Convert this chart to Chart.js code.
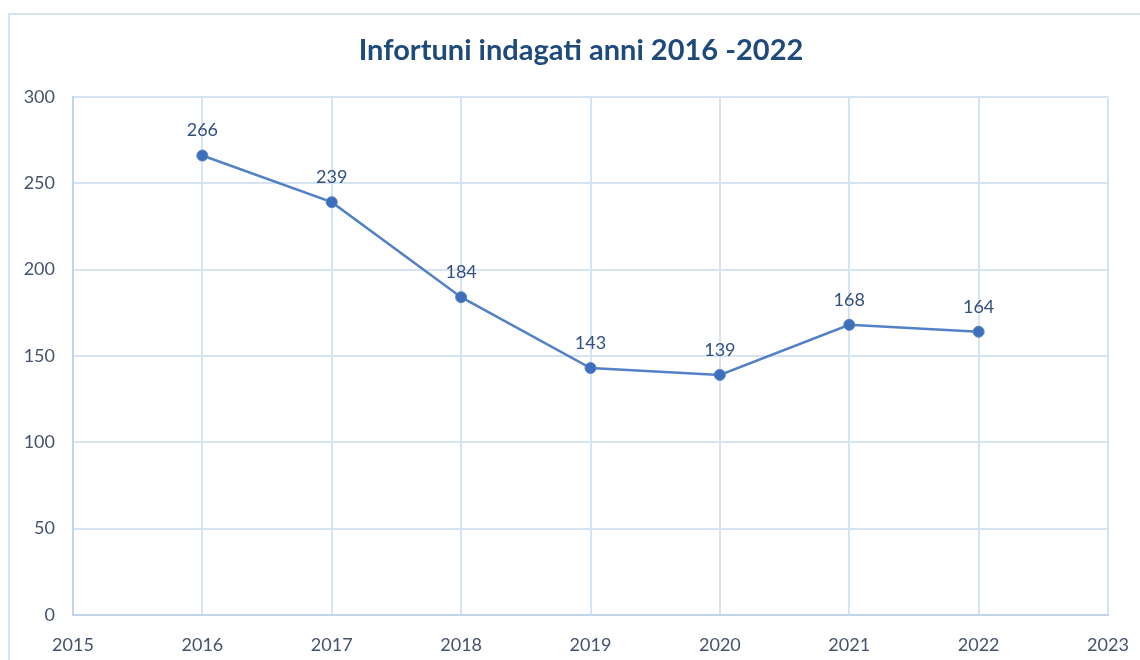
<!doctype html>
<html>
<head>
<meta charset="UTF-8" />
<script src="https://cdn.jsdelivr.net/npm/chart.js"></script>
<style>
  html, body { margin: 0; padding: 0; background: #fff; overflow: hidden; }
  .frame { position: absolute; left: 8px; top: 13px; width: 1200px; height: 700px; border: 2px solid #d6e3f3; box-sizing: border-box; }
  .chartBox { position: absolute; left: 0; top: 0; width: 1140px; height: 660px; }
</style>
</head>
<body>
<div class="frame"></div>
<div class="chartBox"><canvas id="injuryChart"></canvas></div>
<script>
const years = [2016, 2017, 2018, 2019, 2020, 2021, 2022];
const injuries = [266, 239, 184, 143, 139, 168, 164];
const xMin = 2015, xMax = 2023;
const yMin = 0, yMax = 300, yStep = 50;

const fontFamily = 'Lato, "Open Sans", sans-serif';
const tickColor = '#44546a';
const gridColor = '#d6e3f3';

// value labels above each point
const pointLabels = {
  id: 'pointLabels',
  afterDatasetsDraw(chart) {
    const ctx = chart.ctx;
    const meta = chart.getDatasetMeta(0);
    ctx.save();
    ctx.font = '18px ' + fontFamily;
    ctx.fillStyle = '#34507e';
    ctx.textAlign = 'center';
    ctx.textBaseline = 'bottom';
    meta.data.forEach((pt, i) => {
      ctx.fillText(String(injuries[i]), pt.x, pt.y - 16);
    });
    ctx.restore();
  }
};

const data = {
  datasets: [{
    label: 'Infortuni',
    data: years.map((y, i) => ({ x: y, y: injuries[i] })),
    borderColor: '#5281c6',
    backgroundColor: '#3d6fbd',
    borderWidth: 2.5,
    pointRadius: 5.5,
    pointHoverRadius: 5.5,
    pointBorderWidth: 1,
    tension: 0
  }]
};

const config = {
  type: 'line',
  data,
  options: {
    responsive: true,
    maintainAspectRatio: false,
    animation: false,
    // negative right padding moves the title centre to match the original
    layout: { padding: { left: 0, right: -22, top: 0, bottom: 0 } },
    plugins: {
      legend: { display: false },
      tooltip: { enabled: false },
      title: {
        display: true,
        text: 'Infortuni indagati anni 2016 -2022',
        color: '#1f4a7c',
        font: { family: fontFamily, size: 29, weight: 'bold' },
        padding: { top: 33, bottom: 29 }
      }
    },
    scales: {
      x: {
        type: 'linear',
        min: xMin,
        max: xMax,
        ticks: {
          stepSize: 1,
          color: tickColor,
          font: { family: fontFamily, size: 18 },
          padding: 19,
          callback: v => String(v)
        },
        grid: { color: gridColor, lineWidth: 2, drawTicks: false },
        border: { color: '#c3d4ea', width: 2 },
        afterFit: s => { s.height = 45; s.paddingRight = 32; }
      },
      y: {
        min: yMin,
        max: yMax,
        ticks: {
          stepSize: yStep,
          color: tickColor,
          font: { family: fontFamily, size: 18 },
          padding: 18
        },
        grid: { color: gridColor, lineWidth: 2, drawTicks: false },
        border: { color: '#c3d4ea', width: 2 },
        afterFit: s => { s.width = 73; }
      }
    }
  },
  plugins: [pointLabels]
};

const injuryChart = new Chart(document.getElementById('injuryChart'), config);
</script>
</body>
</html>
